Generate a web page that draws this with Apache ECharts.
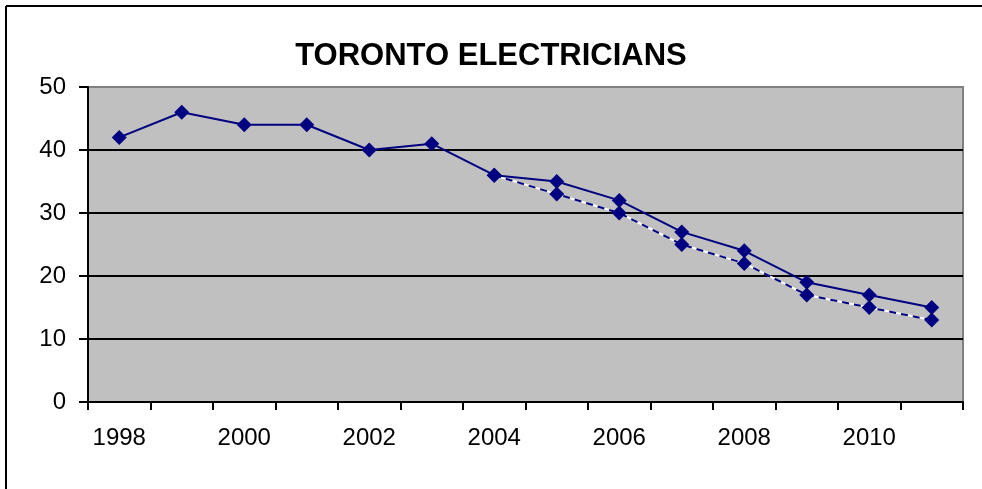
<!DOCTYPE html>
<html>
<head>
<meta charset="utf-8">
<title>TORONTO ELECTRICIANS</title>
<script src="https://cdn.jsdelivr.net/npm/echarts@6/dist/echarts.min.js"></script>
<style>
  html, body { margin: 0; padding: 0; background: #ffffff; }
  #chart { width: 982px; height: 489px; }
</style>
</head>
<body>
<div id="chart"></div>
<script>
// Years on the category axis
const years = ['1998', '1999', '2000', '2001', '2002', '2003', '2004',
               '2005', '2006', '2007', '2008', '2009', '2010', '2011'];

// Solid series
const mainSeries = [42, 46, 44, 44, 40, 41, 36, 35, 32, 27, 24, 19, 17, 15];

// Dashed series, starting in 2004
const altSeries = [null, null, null, null, null, null, 36, 33, 30, 25, 22, 17, 15, 13];

// Value axis ticks
const yTicks = [0, 10, 20, 30, 40, 50];

const chartTitle = 'TORONTO ELECTRICIANS';

const NAVY = '#000080';
const FONT = '"Liberation Sans", Arial, sans-serif';

const chart = echarts.init(document.getElementById('chart'), null, { renderer: 'canvas' });

chart.setOption({
  animation: false,
  backgroundColor: '#ffffff',
  title: {
    text: chartTitle,
    left: 'center',
    top: 36,
    textStyle: { fontFamily: FONT, fontSize: 31, fontWeight: 'bold', color: '#000' }
  },
  grid: {
    left: 88, right: 19, top: 87, bottom: 87,
    show: true,
    backgroundColor: '#c0c0c0',
    borderColor: '#808080',
    borderWidth: 2
  },
  xAxis: {
    type: 'category',
    data: years,
    boundaryGap: true,
    axisLine: { show: true, lineStyle: { color: '#000', width: 2 } },
    axisTick: { show: true, alignWithLabel: false, interval: 0, length: 8, lineStyle: { color: '#000', width: 2 } },
    axisLabel: {
      interval: 1,
      margin: 24,
      fontFamily: FONT, fontSize: 24, color: '#000'
    },
    splitLine: { show: false }
  },
  yAxis: {
    type: 'value',
    min: yTicks[0],
    max: yTicks[yTicks.length - 1],
    interval: 10,
    axisLine: { show: true, lineStyle: { color: '#000', width: 2 } },
    axisTick: { show: true, length: 9, lineStyle: { color: '#000', width: 2 } },
    axisLabel: {
      margin: 22,
      fontFamily: FONT, fontSize: 24, color: '#000',
      formatter: v => (yTicks.indexOf(v) >= 0 ? String(v) : '')
    },
    splitLine: {
      show: true,
      lineStyle: { color: '#000', width: 2 },
      showMaxLine: false,
      showMinLine: false
    }
  },
  series: [
    {
      // white base under the dashed line
      type: 'line',
      data: altSeries,
      symbol: 'none',
      silent: true,
      lineStyle: { color: '#ffffff', width: 2 },
      z: 2
    },
    {
      type: 'line',
      data: altSeries,
      symbol: 'diamond',
      symbolSize: 15,
      itemStyle: { color: NAVY },
      lineStyle: { color: NAVY, width: 2, type: [7, 5] },
      z: 3
    },
    {
      type: 'line',
      data: mainSeries,
      symbol: 'diamond',
      symbolSize: 15,
      itemStyle: { color: NAVY },
      lineStyle: { color: NAVY, width: 2 },
      z: 4
    }
  ],
  graphic: [
    // outer chart frame (left and top edges)
    { type: 'line', shape: { x1: 6, y1: 6, x2: 982, y2: 6 }, style: { stroke: '#000', lineWidth: 2 } },
    { type: 'line', shape: { x1: 6, y1: 6, x2: 6, y2: 489 }, style: { stroke: '#000', lineWidth: 2 } }
  ]
});
</script>
</body>
</html>
